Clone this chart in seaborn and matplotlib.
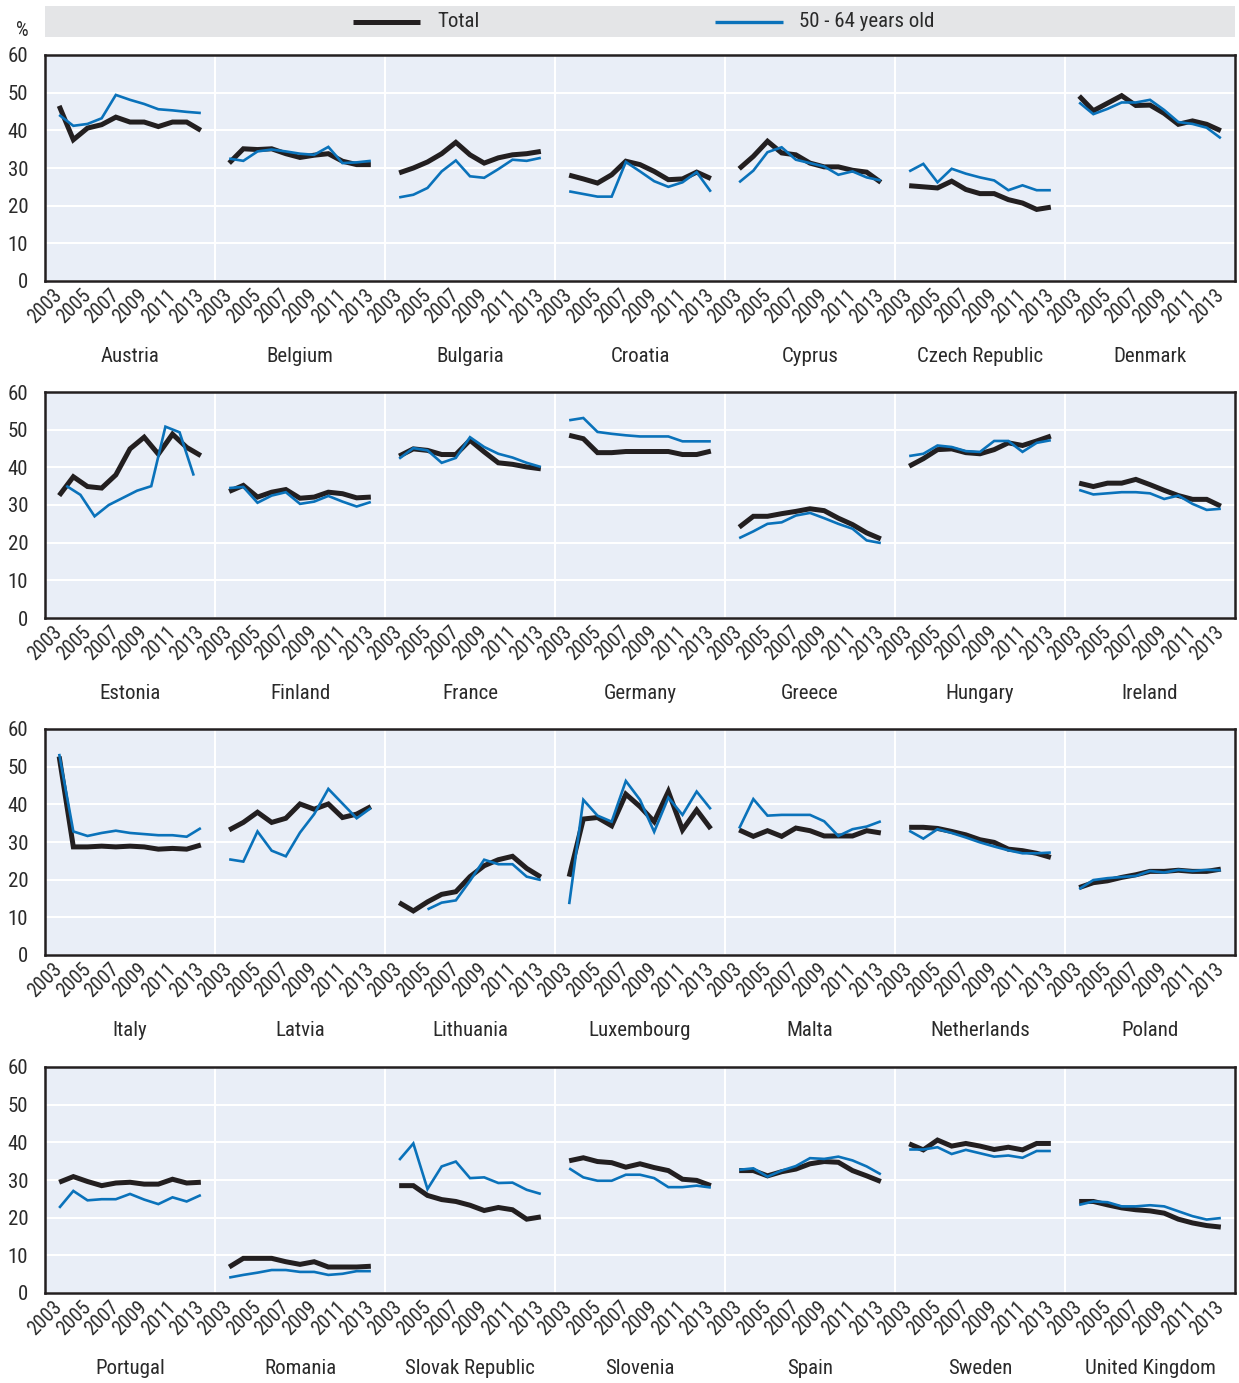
import numpy as np
import pandas as pd
import matplotlib
matplotlib.use("Agg")
import matplotlib.pyplot as plt
import matplotlib.transforms as mtransforms
from matplotlib import font_manager
import seaborn as sns

# ---------------- data ----------------
years = list(range(2003, 2014))
year_labels = [2003, 2005, 2007, 2009, 2011, 2013]
countries = [
    "Austria", "Belgium", "Bulgaria", "Croatia", "Cyprus", "Czech Republic", "Denmark",
    "Estonia", "Finland", "France", "Germany", "Greece", "Hungary", "Ireland",
    "Italy", "Latvia", "Lithuania", "Luxembourg", "Malta", "Netherlands", "Poland",
    "Portugal", "Romania", "Slovak Republic", "Slovenia", "Spain", "Sweden", "United Kingdom",
]
series_names = ["Total", "50 - 64 years old"]
nan = np.nan

total_values = [
    [46.5, 37.5, 40.6, 41.5, 43.5, 42.2, 42.2, 41.0, 42.2, 42.2, 40.0],   # Austria
    [31.3, 35.1, 34.9, 35.1, 33.8, 32.8, 33.4, 33.8, 31.8, 30.9, 30.9],   # Belgium
    [28.7, 30.0, 31.6, 33.8, 36.8, 33.5, 31.3, 32.7, 33.5, 33.8, 34.4],   # Bulgaria
    [28.1, 27.1, 26.0, 28.2, 31.8, 30.9, 29.1, 26.9, 27.1, 28.9, 27.2],   # Croatia
    [29.8, 33.1, 37.1, 34.0, 33.5, 31.3, 30.3, 30.3, 29.4, 28.9, 26.2],   # Cyprus
    [25.3, 25.0, 24.7, 26.5, 24.3, 23.2, 23.2, 21.6, 20.7, 19.0, 19.6],   # Czech Republic
    [49.1, 45.2, 47.2, 49.2, 46.6, 46.7, 44.5, 41.6, 42.5, 41.6, 39.9],   # Denmark
    [32.5, 37.5, 34.9, 34.5, 38.0, 44.9, 48.0, 43.5, 48.8, 45.3, 43.1],   # Estonia
    [33.6, 35.2, 32.1, 33.4, 34.1, 31.8, 32.1, 33.4, 33.0, 31.9, 32.1],   # Finland
    [43.0, 44.9, 44.5, 43.4, 43.4, 47.2, 44.1, 41.2, 40.8, 40.1, 39.6],   # France
    [48.5, 47.6, 43.9, 43.9, 44.2, 44.2, 44.2, 44.2, 43.4, 43.4, 44.3],   # Germany
    [24.1, 27.0, 27.0, 27.7, 28.3, 29.0, 28.5, 26.5, 24.8, 22.6, 21.0],   # Greece
    [40.3, 42.3, 44.7, 44.9, 43.9, 43.6, 44.7, 46.5, 45.8, 47.0, 48.3],   # Hungary
    [35.8, 34.9, 35.8, 35.8, 36.8, 35.4, 33.9, 32.5, 31.5, 31.5, 29.7],   # Ireland
    [52.7, 28.7, 28.7, 28.9, 28.7, 28.9, 28.7, 28.1, 28.3, 28.1, 29.2],   # Italy
    [33.2, 35.2, 37.9, 35.2, 36.3, 40.1, 38.7, 40.1, 36.5, 37.4, 39.4],   # Latvia
    [13.9, 11.7, 14.1, 16.1, 16.8, 20.8, 23.7, 25.3, 26.2, 23.0, 20.7],   # Lithuania
    [20.8, 36.1, 36.5, 34.3, 42.7, 39.4, 35.4, 43.4, 33.2, 38.5, 33.5],   # Luxembourg
    [33.2, 31.5, 33.0, 31.5, 33.7, 33.0, 31.6, 31.6, 31.6, 33.0, 32.4],   # Malta
    [33.9, 33.9, 33.6, 32.8, 31.9, 30.6, 29.9, 28.1, 27.7, 27.0, 25.9],   # Netherlands
    [17.9, 19.2, 19.7, 20.6, 21.3, 22.2, 22.2, 22.5, 22.2, 22.2, 22.8],   # Poland
    [29.4, 30.9, 29.6, 28.5, 29.2, 29.4, 28.9, 28.9, 30.2, 29.2, 29.4],   # Portugal
    [6.9, 9.2, 9.2, 9.2, 8.3, 7.6, 8.3, 6.9, 6.9, 6.9, 7.1],             # Romania
    [28.5, 28.5, 25.9, 24.8, 24.3, 23.3, 21.9, 22.7, 22.1, 19.6, 20.2],   # Slovak Republic
    [35.1, 35.9, 34.9, 34.6, 33.4, 34.3, 33.3, 32.5, 30.2, 29.9, 28.5],   # Slovenia
    [32.5, 32.5, 31.1, 32.2, 32.9, 34.3, 34.9, 34.7, 32.5, 31.1, 29.6],   # Spain
    [39.6, 38.0, 40.6, 39.0, 39.7, 39.0, 38.1, 38.7, 38.0, 39.7, 39.7],   # Sweden
    [24.3, 24.3, 23.4, 22.6, 22.1, 21.8, 21.2, 19.6, 18.6, 17.9, 17.5],   # United Kingdom
]

older_values = [
    [44.1, 41.2, 41.7, 43.2, 49.4, 48.1, 47.0, 45.6, 45.3, 44.9, 44.6],   # Austria
    [32.5, 31.9, 34.4, 34.9, 34.4, 33.8, 33.5, 35.6, 31.3, 31.5, 31.9],   # Belgium
    [22.2, 22.9, 24.7, 29.1, 32.0, 27.8, 27.4, 29.7, 32.2, 31.9, 32.7],   # Bulgaria
    [23.8, 23.1, 22.4, 22.4, 31.6, 29.1, 26.5, 25.0, 26.2, 28.9, 23.7],   # Croatia
    [26.2, 29.3, 34.2, 35.5, 32.2, 31.3, 30.4, 28.2, 29.1, 27.5, 26.7],   # Cyprus
    [29.1, 31.1, 26.2, 29.8, 28.5, 27.5, 26.7, 24.1, 25.4, 24.1, 24.1],   # Czech Republic
    [47.4, 44.3, 45.7, 47.4, 47.4, 48.1, 45.4, 42.2, 41.7, 40.7, 37.9],   # Denmark
    [35.1, 32.7, 27.0, 30.0, 31.9, 33.8, 35.0, 50.8, 49.3, 37.8],         # Estonia (10 points, mid-year)
    [34.5, 34.8, 30.6, 32.5, 33.4, 30.3, 30.9, 32.4, 30.9, 29.6, 30.8],   # Finland
    [42.3, 45.1, 44.5, 41.2, 42.5, 48.0, 45.4, 43.6, 42.6, 41.2, 40.1],   # France
    [52.5, 53.1, 49.4, 48.9, 48.5, 48.2, 48.2, 48.2, 46.9, 46.9, 46.9],   # Germany
    [21.2, 23.0, 25.0, 25.4, 27.2, 27.9, 26.5, 25.0, 23.7, 20.6, 19.9],   # Greece
    [43.0, 43.6, 45.8, 45.4, 44.3, 44.1, 47.0, 47.0, 44.1, 46.5, 47.2],   # Hungary
    [34.0, 32.8, 33.1, 33.4, 33.4, 33.1, 31.6, 32.5, 30.3, 28.7, 29.0],   # Ireland
    [53.4, 32.8, 31.6, 32.4, 33.0, 32.4, 32.1, 31.8, 31.8, 31.4, 33.7],   # Italy
    [25.4, 24.8, 32.8, 27.7, 26.2, 32.5, 37.4, 44.1, 40.2, 36.3, 39.0],   # Latvia
    [nan, nan, 12.1, 13.9, 14.5, 19.7, 25.3, 24.1, 24.1, 20.8, 19.9],     # Lithuania
    [13.5, 41.2, 37.0, 35.4, 46.2, 41.2, 32.7, 41.8, 37.2, 43.4, 38.7],   # Luxembourg
    [33.6, 41.4, 37.0, 37.2, 37.2, 37.2, 35.5, 31.6, 33.4, 34.1, 35.5],   # Malta
    [33.0, 30.9, 33.4, 32.4, 31.2, 29.9, 28.8, 27.8, 27.0, 27.0, 27.2],   # Netherlands
    [17.5, 19.9, 20.4, 20.7, 21.0, 22.3, 21.9, 22.6, 22.3, 22.6, 22.5],   # Poland
    [22.6, 27.1, 24.6, 24.9, 24.9, 26.3, 24.8, 23.6, 25.4, 24.3, 26.0],   # Portugal
    [4.1, 4.8, 5.4, 6.1, 6.1, 5.6, 5.6, 4.8, 5.1, 5.8, 5.8],             # Romania
    [35.3, 39.7, 27.6, 33.6, 34.9, 30.5, 30.7, 29.2, 29.3, 27.4, 26.3],   # Slovak Republic
    [33.1, 30.7, 29.8, 29.8, 31.4, 31.4, 30.5, 28.1, 28.1, 28.5, 28.0],   # Slovenia
    [32.7, 33.1, 30.9, 32.5, 33.7, 35.8, 35.6, 36.2, 35.2, 33.6, 31.5],   # Spain
    [38.1, 38.1, 38.7, 36.9, 38.0, 37.1, 36.2, 36.5, 35.9, 37.7, 37.7],   # Sweden
    [23.4, 24.3, 24.1, 23.0, 23.0, 23.3, 23.0, 21.7, 20.4, 19.5, 19.9],   # United Kingdom
]
estonia_older_years = [2003.5, 2004.5, 2005.5, 2006.5, 2007.5, 2008.5, 2009.5, 2010.5, 2011.5, 2012.5]

# ---------------- fonts ----------------
W, H = 1239, 1383
DPI = 100


def pick_condensed():
    fl = font_manager.fontManager.ttflist
    regular = lambda f: f.style == "normal" and f.weight in (400, "normal", "regular", "book")
    prefs = ["Liberation Sans Narrow", "Arial Narrow", "Roboto Condensed",
             "Open Sans Condensed", "Noto Sans Condensed", "DejaVu Sans Condensed"]
    for p in prefs:
        for f in fl:
            if f.name == p and regular(f):
                return f.fname
    for f in fl:
        if f.stretch in ("condensed", "semi-condensed", "extra-condensed") and regular(f):
            return f.fname
    return None


cond_path = pick_condensed()
sns.set_style("white")
if cond_path:
    def fp(size):
        return font_manager.FontProperties(fname=cond_path, size=size)
    S_YEAR, S_Y, S_CTRY, S_LEG, S_PCT = 14.3, 15, 15, 15, 14.5
else:
    plt.rcParams["font.family"] = ["Liberation Sans", "DejaVu Sans"]

    def fp(size):
        return font_manager.FontProperties(family=["Liberation Sans", "DejaVu Sans"], size=size)
    S_YEAR, S_Y, S_CTRY, S_LEG, S_PCT = 13, 13, 13, 13, 13

plt.rcParams["lines.solid_capstyle"] = "butt"
plt.rcParams["lines.solid_joinstyle"] = "miter"

BLACK = "#231f20"
BLUE = "#0a72ba"
PANEL_BG = "#e9eef7"
TEXT = "#2a2a2a"

# ---------------- build long table ----------------
PER = 12  # slots per country segment
rows = []
for i, country in enumerate(countries):
    col = i % 7
    r = i // 7
    for y, v in zip(years, total_values[i]):
        rows.append(dict(country=country, row=r, x=col * PER + (y - 2003) + 1,
                         value=v, series=series_names[0]))
    oyears = estonia_older_years if country == "Estonia" else years
    for y, v in zip(oyears, older_values[i]):
        rows.append(dict(country=country, row=r, x=col * PER + (y - 2003) + 1,
                         value=v, series=series_names[1]))
df = pd.DataFrame(rows)

fig = plt.figure(figsize=(W / DPI, H / DPI), dpi=DPI)

row_tops = [55, 392, 729, 1067]
row_h = 226
left_px, width_px = 45, 1190

minor_pos = []
minor_lab = []
for c in range(7):
    for y in year_labels:
        minor_pos.append(c * PER + (y - 2003) + 1)
        minor_lab.append(str(y))

for r in range(4):
    ax = fig.add_axes([left_px / W, 1 - (row_tops[r] + row_h) / H, width_px / W, row_h / H])
    ax.set_facecolor(PANEL_BG)
    sub = df[df.row == r]
    sns.lineplot(data=sub, x="x", y="value", hue="series", size="series",
                 units="country", estimator=None, hue_order=series_names,
                 palette={series_names[0]: BLACK, series_names[1]: BLUE},
                 sizes={series_names[0]: 3.6, series_names[1]: 1.9},
                 size_order=series_names, legend=False, ax=ax)
    for ln in ax.lines:
        ln.set_solid_capstyle("butt")
        ln.set_solid_joinstyle("miter")
    ax.set_xlim(0, 7 * PER)
    ax.set_ylim(0, 60)
    ax.set_xlabel("")
    ax.set_ylabel("")
    ax.set_yticks(range(0, 61, 10))
    ax.set_xticks([PER * k for k in range(1, 7)])
    ax.set_xticks(minor_pos, labels=minor_lab, minor=True)
    ax.grid(True, which="major", color="white", linewidth=1.5)
    ax.set_axisbelow(True)
    ax.tick_params(axis="x", which="major", direction="in", length=7, width=1,
                   color="#333333", labelbottom=False)
    ax.tick_params(axis="x", which="minor", length=0, pad=8, labelcolor=TEXT)
    for lab in ax.get_xticklabels(minor=True):
        lab.set_fontproperties(fp(S_YEAR))
        lab.set_rotation(45)
        lab.set_ha("right")
        lab.set_va("center")
        lab.set_rotation_mode("anchor")
    ax.tick_params(axis="y", direction="in", length=6, width=1, color="#777777",
                   pad=12, labelcolor=TEXT)
    for lab in ax.get_yticklabels():
        lab.set_fontproperties(fp(S_Y))
    for s in ax.spines.values():
        s.set_visible(True)
        s.set_color(BLACK)
        s.set_linewidth(1.8)
    trans = mtransforms.blended_transform_factory(ax.transData, ax.transAxes)
    for c in range(7):
        ax.text(c * PER + PER / 2, -75 / row_h, countries[r * 7 + c], transform=trans,
                ha="center", va="center", fontproperties=fp(S_CTRY), color=TEXT)

# "%" unit label
fig.text(22 / W, 1 - 31 / H, "%", ha="center", va="center", fontproperties=fp(S_PCT), color=TEXT)

# legend band
lax = fig.add_axes([left_px / W, 1 - 37 / H, width_px / W, 31 / H])
lax.set_facecolor("#e4e5e7")
lax.set_xlim(left_px, left_px + width_px)
lax.set_ylim(0, 1)
for s in lax.spines.values():
    s.set_visible(False)
lax.set_xticks([])
lax.set_yticks([])
lax.plot([353, 420], [0.5, 0.5], color=BLACK, lw=3.6, solid_capstyle="butt")
lax.text(437, 0.5, series_names[0], ha="left", va="center", fontproperties=fp(S_LEG), color=TEXT)
lax.plot([715, 783], [0.5, 0.5], color=BLUE, lw=2.4, solid_capstyle="butt")
lax.text(799, 0.5, series_names[1], ha="left", va="center", fontproperties=fp(S_LEG), color=TEXT)

fig.savefig("out.png", dpi=DPI)
